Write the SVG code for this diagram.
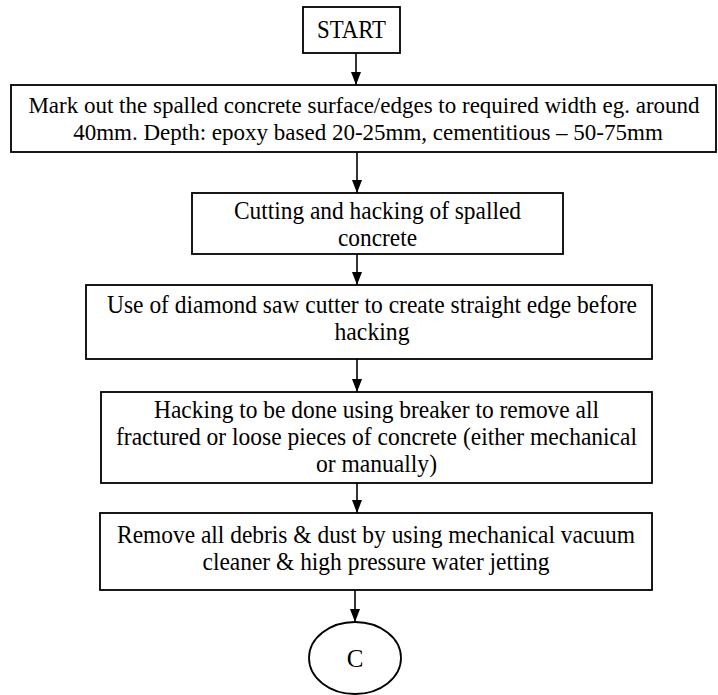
<svg xmlns="http://www.w3.org/2000/svg" width="718" height="695" viewBox="0 0 718 695">
<defs>
<marker id="ah" markerWidth="13" markerHeight="10" refX="13" refY="5" orient="auto" markerUnits="userSpaceOnUse" viewBox="0 0 13 10">
<path d="M0,0 L13,5 L0,10 Z" fill="#000"/>
</marker>
<style>
.box{fill:#fff;stroke:#000;stroke-width:1.8}
.t{font-family:"Liberation Serif","Times New Roman",serif;font-size:25px;fill:#000;text-anchor:middle}
.s{font-size:23px}
.c{stroke:#000;stroke-width:1.6;fill:none}
</style>
</defs>
<rect width="718" height="695" fill="#fff"/>
<g id="start">
<rect class="box" x="303" y="7" width="97" height="46"/>
<text class="t" x="351.5" y="38" textLength="69" lengthAdjust="spacingAndGlyphs">START</text>
</g>
<g id="mark">
<rect class="box" x="11" y="85" width="705" height="67"/>
<text class="t s" x="364" y="113">Mark out the spalled concrete surface/edges to required width eg. around</text>
<text class="t s" x="368" y="140">40mm.  Depth: epoxy based 20-25mm, cementitious – 50-75mm</text>
</g>
<g id="cutting">
<rect class="box" x="192" y="193" width="371" height="61"/>
<text class="t" x="377.5" y="219" textLength="287" lengthAdjust="spacingAndGlyphs">Cutting and hacking of spalled</text>
<text class="t" x="377.5" y="246" textLength="79" lengthAdjust="spacingAndGlyphs">concrete</text>
</g>
<g id="diamond">
<rect class="box" x="86" y="285" width="566" height="74"/>
<text class="t" x="372" y="313" textLength="530" lengthAdjust="spacingAndGlyphs">Use of diamond saw cutter to create straight edge before</text>
<text class="t" x="372" y="340" textLength="75" lengthAdjust="spacingAndGlyphs">hacking</text>
</g>
<g id="hacking">
<rect class="box" x="101" y="392" width="551" height="91"/>
<text class="t" x="376.5" y="418" textLength="445" lengthAdjust="spacingAndGlyphs">Hacking to be done using breaker to remove all</text>
<text class="t" x="376.5" y="445" textLength="521" lengthAdjust="spacingAndGlyphs">fractured or loose pieces of concrete (either mechanical</text>
<text class="t" x="376.5" y="472" textLength="121" lengthAdjust="spacingAndGlyphs">or manually)</text>
</g>
<g id="remove">
<rect class="box" x="100" y="513" width="552" height="77"/>
<text class="t" x="376" y="543" textLength="518" lengthAdjust="spacingAndGlyphs">Remove all debris &amp; dust by using mechanical vacuum</text>
<text class="t" x="376" y="570" textLength="347" lengthAdjust="spacingAndGlyphs">cleaner &amp; high pressure water jetting</text>
</g>
<g id="connector-c">
<ellipse class="box" cx="355" cy="658" rx="46" ry="36"/>
<text class="t" x="355" y="667">C</text>
</g>
<g id="connectors">
<line class="c" x1="356" y1="53" x2="356" y2="85" marker-end="url(#ah)"/>
<line class="c" x1="357" y1="152" x2="357" y2="193" marker-end="url(#ah)"/>
<line class="c" x1="357" y1="254" x2="357" y2="285" marker-end="url(#ah)"/>
<line class="c" x1="357" y1="359" x2="357" y2="392" marker-end="url(#ah)"/>
<line class="c" x1="357" y1="483" x2="357" y2="513" marker-end="url(#ah)"/>
<line class="c" x1="355" y1="590" x2="355" y2="622" marker-end="url(#ah)"/>
</g>
</svg>
